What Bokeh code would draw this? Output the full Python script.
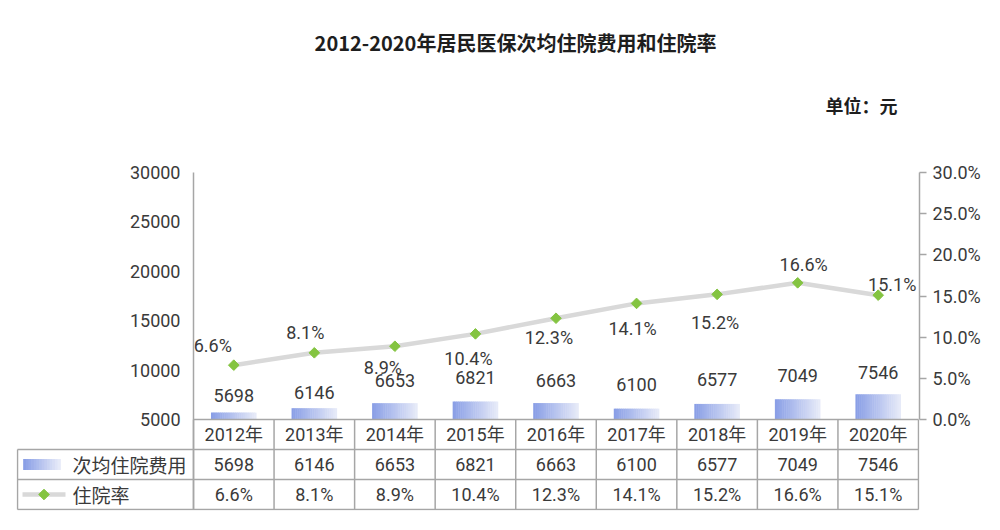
import numpy as np
from bokeh.plotting import figure
from bokeh.models import (Range1d, LinearAxis, FixedTicker,
                          NumeralTickFormatter, PrintfTickFormatter,
                          ColumnDataSource)
from bokeh.core.properties import value
from bokeh.embed import file_html
from bokeh.resources import INLINE

# ---------------- data ----------------
years = ["2012年", "2013年", "2014年", "2015年", "2016年", "2017年", "2018年", "2019年", "2020年"]
cost = [5698, 6146, 6653, 6821, 6663, 6100, 6577, 7049, 7546]
rate = [6.6, 8.1, 8.9, 10.4, 12.3, 14.1, 15.2, 16.6, 15.1]
cost_ticks = [5000, 10000, 15000, 20000, 25000, 30000]
rate_ticks = [0, 5, 10, 15, 20, 25, 30]
series_names = ["次均住院费用", "住院率"]
title_text = "2012-2020年居民医保次均住院费用和住院率"
unit_text = "单位：元"

# ---------------- label placement (pixels, style only) ----------------
cost_label_up = [17, 16, 23, 24, 23, 24, 24, 24, 22]
rate_label_dx = [-21, -9, -12, -7, -7, -4, -2, 6, 14]
rate_label_dy = [-20, -20, 21, 25, 19, 25, 28, -18, -11]

FONT = "Roboto, 'Noto Sans CJK SC', sans-serif"
CJK = "'Noto Sans CJK SC', sans-serif"
TXT = "#3a3a3a"
GRID = "#a6a6a6"
LINE_C = "#d9d9d9"
MARK_C = "#84c441"
BAR_L = np.array([0x8a, 0x9f, 0xe6])
BAR_R = np.array([0xe6, 0xea, 0xf8])

def mix(t):
    c = BAR_L + (BAR_R - BAR_L) * t
    return "#%02x%02x%02x" % tuple(int(round(v)) for v in c)

# ---------------- layout geometry (pixels) ----------------
n = len(years)
PL, PR = 193, 918          # plot area left / right
TL = 17                    # table left edge
CT, CB = 172, 419          # plot area top / bottom
ROW = 30                   # table row height
FB = CB + 3 * ROW + 1      # frame bottom
COLW = (PR - PL) / n
XL = -(PL - TL) / COLW     # table header column start (data x)

def px2x(v):
    return (v - PL) / COLW

W = 990
kc = (cost_ticks[-1] - cost_ticks[0]) / (CB - CT)
kr = (rate_ticks[-1] - rate_ticks[0]) / (CB - CT)

p = figure(width=W, height=FB + 8,
           x_range=Range1d(px2x(TL - 1), px2x(PR + 1)),
           y_range=Range1d(cost_ticks[0] - (FB - CB) * kc, cost_ticks[-1] + CT * kc),
           output_backend="svg", toolbar_location=None,
           x_axis_location=None,
           min_border_left=TL - 1, min_border_right=W - (PR + 1),
           min_border_top=0, min_border_bottom=8)
p.outline_line_color = None
p.xgrid.visible = False
p.ygrid.visible = False
p.extra_y_ranges = {
    "pct": Range1d(rate_ticks[0] - (FB - CB) * kr, rate_ticks[-1] + CT * kr),
    "pix": Range1d(FB, 0),
}

# left axis pinned at the plot-area edge
ya = p.yaxis[0]
ya.fixed_location = 0
ya.bounds = (cost_ticks[0] - (FB - CB - 1) * kc, cost_ticks[-1])
ya.ticker = FixedTicker(ticks=cost_ticks)
ya.formatter = NumeralTickFormatter(format="0")
ya.major_tick_line_color = None
ya.minor_tick_line_color = None
ya.major_tick_out = 0
ya.major_tick_in = 0
ya.axis_line_color = GRID
ya.axis_line_width = 1.5
ya.major_label_standoff = 13
ya.major_label_text_font = FONT
ya.major_label_text_font_size = "18px"
ya.major_label_text_color = TXT

ra = LinearAxis(y_range_name="pct", ticker=FixedTicker(ticks=rate_ticks),
                formatter=PrintfTickFormatter(format="%.1f%%"),
                bounds=(rate_ticks[0], rate_ticks[-1]))
ra.major_tick_out = 7
ra.major_tick_in = 0
ra.major_tick_line_color = GRID
ra.major_tick_line_width = 1.5
ra.minor_tick_line_color = None
ra.axis_line_color = GRID
ra.axis_line_width = 1.5
ra.major_label_standoff = 6
ra.major_label_text_font = FONT
ra.major_label_text_font_size = "18px"
ra.major_label_text_color = TXT
p.add_layout(ra, "right")

idx = np.arange(n)
src = ColumnDataSource(dict(
    xc=idx + 0.5, year=years, cost=cost, rate=rate,
    cost_str=[str(v) for v in cost],
    rate_str=["%.1f%%" % v for v in rate],
    cost_up=[-v for v in cost_label_up],
    rdx=rate_label_dx, rdy=rate_label_dy,
))

# gradient bars as thin slices
BAR_W = 0.56
N = 24
for k in range(N):
    off = -BAR_W / 2 + (k + 0.5) * BAR_W / N
    p.vbar(x=idx + 0.5 + off, top=cost, bottom=cost_ticks[0],
           width=BAR_W / N * 1.25, fill_color=mix(k / (N - 1)), line_color=None)

p.text(x="xc", y="cost", text="cost_str", source=src, y_offset="cost_up",
       text_align="center", text_baseline="middle", text_font=value(FONT),
       text_font_size="18px", text_color=TXT)

p.line(x="xc", y="rate", source=src, y_range_name="pct",
       line_color=LINE_C, line_width=4.5)
p.scatter(x="xc", y="rate", source=src, y_range_name="pct", marker="square",
          angle=np.pi / 4, size=7.5, fill_color=MARK_C, line_color=MARK_C)
p.text(x="xc", y="rate", text="rate_str", source=src, y_range_name="pct",
       x_offset="rdx", y_offset="rdy", text_align="center", text_baseline="middle",
       text_font=value(FONT), text_font_size="18px", text_color=TXT)

# titles
p.text(x=[px2x(515)], y=[42], text=[title_text], y_range_name="pix",
       text_align="center", text_baseline="middle", text_font=value(CJK),
       text_font_style="bold", text_font_size="20px", text_color="#1e1e1e")
p.text(x=[px2x(897)], y=[104], text=[unit_text], y_range_name="pix",
       text_align="right", text_baseline="middle", text_font=value(CJK),
       text_font_style="bold", text_font_size="18px", text_color="#1e1e1e")

# ---------------- data table ----------------
rows_y = [CB + r * ROW for r in range(4)]
# horizontal rules
hx0 = [0, XL, XL, XL]
hx1 = [n] * 4
p.segment(x0=hx0, y0=rows_y, x1=hx1, y1=rows_y, y_range_name="pix",
          line_color=GRID, line_width=1.5)
# vertical rules
vx = list(range(n + 1)) + [XL]
vy0 = [rows_y[0]] * (n + 1) + [rows_y[1]]
vy1 = [rows_y[3]] * (n + 2)
p.segment(x0=vx, y0=vy0, x1=vx, y1=vy1, y_range_name="pix",
          line_color=GRID, line_width=1.5)

for col, r in (("year", 0), ("cost_str", 1), ("rate_str", 2)):
    p.text(x="xc", y=CB + (r + 0.5) * ROW, text=col, source=src, y_range_name="pix",
           text_align="center", text_baseline="middle", text_font=value(FONT),
           text_font_size="18px", text_color=TXT)

# legend keys inside the table
SW0, SW1 = px2x(23), px2x(60)
NS = 14
ws = (SW1 - SW0) / NS
for k in range(NS):
    p.rect(x=SW0 + (k + 0.5) * ws, y=CB + 1.5 * ROW, width=ws * 1.25, height=11,
           height_units="screen", y_range_name="pix",
           fill_color=mix(k / (NS - 1)), line_color=None)
p.segment(x0=[px2x(22)], y0=[CB + 2.5 * ROW], x1=[px2x(65)], y1=[CB + 2.5 * ROW],
          y_range_name="pix", line_color=LINE_C, line_width=4.5)
p.scatter(x=[px2x(43.5)], y=[CB + 2.5 * ROW], y_range_name="pix", marker="square",
          angle=np.pi / 4, size=7.5, fill_color=MARK_C, line_color=MARK_C)
p.text(x=[px2x(72)] * 2, y=[CB + 1.5 * ROW, CB + 2.5 * ROW], text=series_names,
       y_range_name="pix", text_align="left", text_baseline="middle",
       text_font=value(CJK), text_font_size="19px", text_color=TXT)

open("out.html", "w").write(file_html(p, INLINE))
